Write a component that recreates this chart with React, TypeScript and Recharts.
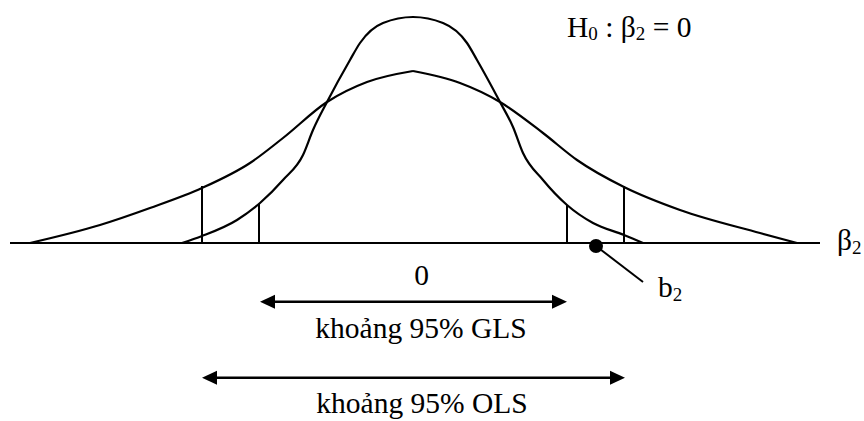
import { ComposedChart, Line, XAxis, YAxis, ReferenceLine, ReferenceDot } from "recharts";

// x: beta2 axis (0 at the centre), y: density height, both
const olsLeft = [
  { x: -38.3, y: 0 },
  { x: -31.3, y: 1.8 },
  { x: -26.3, y: 3.5 },
  { x: -21.1, y: 5.5 },
  { x: -16.3, y: 8.0 },
  { x: -13.0, y: 10.5 },
  { x: -8.6, y: 14.1 },
  { x: -4.6, y: 16.1 },
  { x: 0, y: 17.2 },
];

const olsRight = [
  { x: 0, y: 17.2 },
  { x: 4.7, y: 16.0 },
  { x: 8.7, y: 14.1 },
  { x: 13.0, y: 11.0 },
  { x: 16.4, y: 8.3 },
  { x: 21.1, y: 5.6 },
  { x: 26.7, y: 3.3 },
  { x: 34.7, y: 1.0 },
  { x: 38.4, y: 0 },
];

const glsCurve = [
  { x: -23.1, y: 0 },
  { x: -21.1, y: 0.7 },
  { x: -17.6, y: 2.3 },
  { x: -15.3, y: 4.0 },
  { x: -13.0, y: 6.3 },
  { x: -11.0, y: 8.8 },
  { x: -10.0, y: 11.3 },
  { x: -8.6, y: 14.1 },
  { x: -6.3, y: 18.3 },
  { x: -5.3, y: 20.0 },
  { x: -3.0, y: 22.0 },
  { x: 0, y: 22.6 },
  { x: 3.0, y: 22.0 },
  { x: 5.4, y: 20.0 },
  { x: 6.4, y: 18.3 },
  { x: 8.7, y: 14.1 },
  { x: 10.0, y: 11.6 },
  { x: 11.0, y: 9.0 },
  { x: 13.0, y: 6.3 },
  { x: 15.4, y: 3.8 },
  { x: 18.0, y: 2.0 },
  { x: 21.1, y: 0.8 },
  { x: 23.0, y: 0 },
];

// 95% bounds: x and the top of each tick
const olsBounds = [
  { x: -21.1, top: 5.7 },
  { x: 21.1, top: 5.7 },
];
const glsBounds = [
  { x: -15.4, top: 3.9 },
  { x: 15.4, top: 3.8 },
];

const axisRange = [-40.3, 40.7];
const glsInterval = { from: -15.3, to: 15.4, y: -5.87 };
const olsInterval = { from: -21.1, to: 21.2, y: -13.47 };
const estimate = { x: 18.3, y: -0.3 };
const leaderEnd = { x: 23.0, y: -3.9 };

const FONT = "'Liberation Serif', 'Times New Roman', serif";
const SIZE = 29.5;
const SUB = 19;

function Arrow(p: any) {
  const { x1, y1, x2, y2 } = p;
  const len = 15;
  const h = 7;
  const left = Math.min(x1, x2);
  const right = Math.max(x1, x2);
  return (
    <g>
      <line x1={left + len - 2} y1={y1} x2={right - len + 2} y2={y2} stroke="#000" strokeWidth={2.5} />
      <polygon points={`${left},${y1} ${left + len},${y1 - h} ${left + len},${y1 + h}`} fill="#000" />
      <polygon points={`${right},${y2} ${right - len},${y2 - h} ${right - len},${y2 + h}`} fill="#000" />
    </g>
  );
}

function label(main: any, anchor: "start" | "middle" = "middle") {
  return (p: any) => (
    <text x={p.cx} y={p.cy} textAnchor={anchor} fontFamily={FONT} fontSize={SIZE} fill="#000">
      {main}
    </text>
  );
}

export default function App() {
  return (
    <div style={{ position: "absolute", left: 0, top: 0, width: 864, height: 421, background: "#fff" }}>
      <ComposedChart width={864} height={421} margin={{ top: 0, right: 0, bottom: 0, left: 0 }}>
        <XAxis type="number" dataKey="x" domain={[-41.3, 45.1]} hide allowDataOverflow />
        <YAxis type="number" dataKey="y" domain={[-17.8, 24.3]} hide allowDataOverflow />

        <ReferenceLine
          segment={[
            { x: axisRange[0], y: 0 },
            { x: axisRange[1], y: 0 },
          ]}
          stroke="#000"
          strokeWidth={2}
        />

        <Line data={olsLeft} dataKey="y" type="monotone" stroke="#000" strokeWidth={2.2} dot={false} activeDot={false} isAnimationActive={false} />
        <Line data={olsRight} dataKey="y" type="monotone" stroke="#000" strokeWidth={2.2} dot={false} activeDot={false} isAnimationActive={false} />
        <Line data={glsCurve} dataKey="y" type="monotone" stroke="#000" strokeWidth={2.2} dot={false} activeDot={false} isAnimationActive={false} />

        {[...olsBounds, ...glsBounds].map((b, i) => (
          <ReferenceLine
            key={i}
            segment={[
              { x: b.x, y: 0 },
              { x: b.x, y: b.top },
            ]}
            stroke="#000"
            strokeWidth={2}
          />
        ))}

        <ReferenceLine
          segment={[
            { x: glsInterval.from, y: glsInterval.y },
            { x: glsInterval.to, y: glsInterval.y },
          ]}
          shape={Arrow}
        />
        <ReferenceLine
          segment={[
            { x: olsInterval.from, y: olsInterval.y },
            { x: olsInterval.to, y: olsInterval.y },
          ]}
          shape={Arrow}
        />

        <ReferenceLine
          segment={[
            { x: estimate.x, y: estimate.y },
            { x: leaderEnd.x, y: leaderEnd.y },
          ]}
          stroke="#000"
          strokeWidth={2}
        />
        <ReferenceDot x={estimate.x} y={estimate.y} r={7} fill="#000" stroke="none" />

        <ReferenceDot x={0.85} y={-4.2} r={0} shape={label("0")} />
        <ReferenceDot x={0.8} y={-9.5} r={0} shape={label("khoảng 95% GLS")} />
        <ReferenceDot x={0.9} y={-17.0} r={0} shape={label("khoảng 95% OLS")} />
        <ReferenceDot
          x={42.4}
          y={-0.7}
          r={0}
          shape={label(
            <>
              <tspan>β</tspan>
              <tspan fontSize={SUB} dy={4}>2</tspan>
            </>,
            "start"
          )}
        />
        <ReferenceDot
          x={24.5}
          y={-5.4}
          r={0}
          shape={label(
            <>
              <tspan>b</tspan>
              <tspan fontSize={SUB} dy={4}>2</tspan>
            </>,
            "start"
          )}
        />
        <ReferenceDot
          x={15.4}
          y={20.6}
          r={0}
          shape={label(
            <>
              <tspan>H</tspan>
              <tspan fontSize={SUB} dy={3}>0</tspan>
              <tspan dy={-3}> : β</tspan>
              <tspan fontSize={SUB} dy={3}>2</tspan>
              <tspan dy={-3}> = 0</tspan>
            </>,
            "start"
          )}
        />
      </ComposedChart>
    </div>
  );
}
